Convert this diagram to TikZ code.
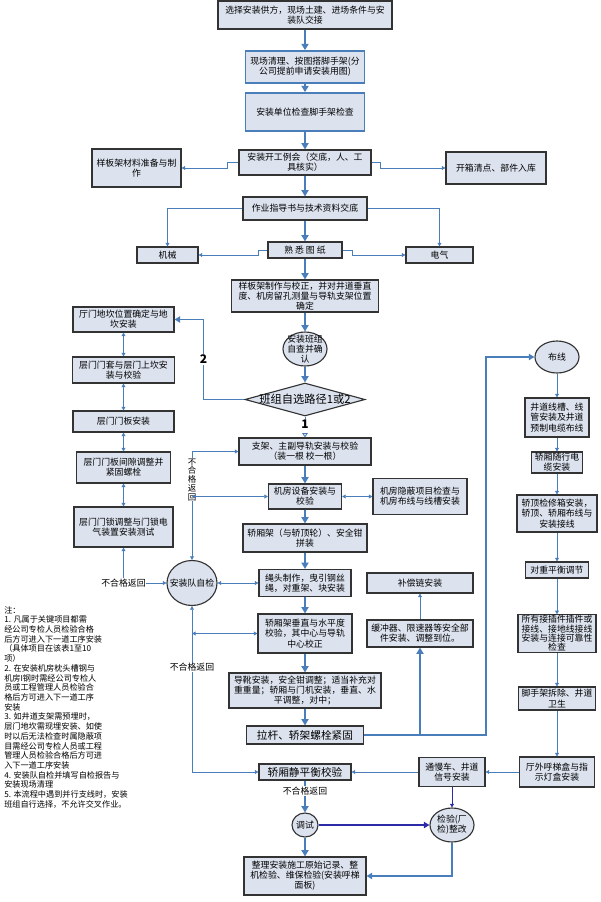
\documentclass[tikz,border=0pt]{standalone}
\usepackage{fontspec}
\setmainfont{Noto Sans CJK SC}
\usepackage{xcolor}
\usepackage{tikz}
\usetikzlibrary{shapes.geometric,arrows.meta,positioning}
\definecolor{flowblue}{HTML}{4A7EBB}
\definecolor{darkblue}{HTML}{2B2BA8}
\definecolor{boxfill}{HTML}{DCE3EF}
\newcommand{\boxfont}{\fontsize{6.3}{7.2}\selectfont}
\newcommand{\tightfont}{\fontsize{6.3}{6.6}\selectfont}
\newcommand{\bigboxfont}{\fontsize{7.6}{9}\selectfont}
\newcommand{\notefont}{\fontsize{5.8}{6.9}\selectfont}
\newcommand{\stackfont}{\fontsize{6}{6.2}\selectfont}
\newcommand{\pathnum}{\fontsize{8.5}{9}\selectfont\bfseries}

\begin{document}
\begin{tikzpicture}[x=0.025cm, y=-0.025cm,
    box/.style={rectangle, draw=black!80, fill=boxfill, line width=0.8pt, inner sep=0.5pt, align=center, font=\boxfont},
    bluebox/.style={box, draw=flowblue, line width=1.2pt},
    oval/.style={ellipse, draw=black!80, fill=boxfill, line width=0.8pt, inner sep=-2pt, align=center, font=\boxfont},
    sz/.style 2 args={minimum width=#1*0.025cm, minimum height=#2*0.025cm},
    mainarrow/.style={-{Triangle[length=4.5pt,width=5pt]}, line width=2pt, draw=flowblue},
    midarrow/.style={-{Triangle[length=4pt,width=4.5pt]}, line width=1.3pt, draw=flowblue},
    thinarrow/.style={-{Triangle[length=2.6pt,width=2.8pt]}, line width=0.6pt, draw=flowblue},
    twoway/.style={{Triangle[length=2.6pt,width=2.8pt]}-{Triangle[length=2.6pt,width=2.8pt]}, line width=0.6pt, draw=flowblue},
    tag/.style={fill=white, inner sep=0.5pt, font=\boxfont}
]
\useasboundingbox (0,0) rectangle (600,902);

% main column
\node[box, sz={174}{28}] (top) at (305,15) {选择安装供方，现场土建、进场条件与安\\装队交接};
\node[bluebox, sz={119}{32}] (clear) at (305,67) {现场清理、按图搭脚手架(分\\公司提前申请安装用图)};
\node[bluebox, sz={119}{38}] (check) at (305,112) {安装单位检查脚手架检查};
\node[box, sz={132}{25}] (meet) at (305,162.5) {安装开工例会（交底，人、工\\具核实）};
\node[box, sz={89}{38}] (tplmat) at (136.5,168) {样板架材料准备与制\\作};
\node[box, sz={100}{32}] (unpack) at (496,168) {开箱清点、部件入库};
\node[box, sz={124}{23}] (guide) at (305,208.5) {作业指导书与技术资料交底};
\node[box, sz={61}{16}] (mech) at (167.5,255) {机械};
\node[box, sz={74}{16}] (drawing) at (305,250) {熟 悉 图 纸};
\node[box, sz={67}{16}] (elec) at (439.5,255) {电气};
\node[box, sz={147}{32}] (tpl) at (305,296) {样板架制作与校正，并对井道垂直\\度、机房留孔测量与导轨支架位置\\确定};
\node[oval, sz={44}{34}] (selfchk) at (305,349) {安装班组\\自查并确\\认};
\node[diamond, draw=black!80, fill=boxfill, line width=0.8pt, aspect=3.6, inner xsep=-0.2cm, inner ysep=0pt,
      font=\fontsize{8}{9}\selectfont, sz={120}{33}] (route) at (305,399.5) {班组自选路径1或2};

% landing door branch
\node[box, sz={101}{25}] (sill) at (123.5,319.5) {厅门地坎位置确定与地\\坎安装};
\node[box, sz={102}{26}] (frame) at (123.5,370) {层门门套与层门上坎安\\装与校验};
\node[box, sz={101}{21}] (panel) at (123.5,421.5) {层门门板安装};
\node[box, sz={94}{31}] (gap) at (123.5,467.5) {层门门板间隙调整并\\紧固螺栓};
\node[box, sz={99}{40}] (lock) at (123.5,527) {层门门锁调整与门锁电\\气装置安装测试};

% car and machine branch
\node[box, sz={132}{27}] (rail) at (305,451.5) {支架、主副导轨安装与校验\\（装一根 校一根）};
\node[box, sz={73}{25}] (machine) at (305,496.5) {机房设备安装与\\校验};
\node[box, sz={94}{36}] (hidden) at (420,496.5) {机房隐蔽项目检查与\\机房布线与线槽安装};
\node[box, sz={124}{28}] (car) at (305,538) {轿厢架（与轿顶轮）、安全钳\\拼装};
\node[oval, sz={50}{45}, inner xsep=-4pt] (teamchk) at (192,583) {安装队自检};
\node[box, sz={92}{27}] (rope) at (305,583) {绳头制作，曳引钢丝\\绳，对重架、块安装};
\node[box, sz={94}{39}] (level) at (305,633.5) {轿厢架垂直与水平度\\校验，其中心与导轨\\中心校正};
\node[box, sz={152}{35}] (shoe) at (305,690.5) {导靴安装，安全钳调整；适当补充对\\重重量；轿厢与门机安装，垂直、水\\平调整，对中；};
\node[box, sz={117}{18}, font=\bigboxfont] (bolt) at (305,735) {拉杆、轿架螺栓紧固};
\node[box, sz={106}{20}] (chain) at (420,583) {补偿链安装};
\node[box, sz={106}{27}] (buffer) at (420,633.5) {缓冲器、限速器等安全部\\件安装、调整到位。};

% wiring branch
\node[oval, sz={44}{32}] (wiring) at (557,357) {布线};
\node[box, sz={64}{39}] (duct) at (557,417.5) {井道线槽、线\\管安装及井道\\预制电缆布线};
\node[box, sz={51}{21}] (trav) at (557,462.5) {轿厢随行电\\缆安装};
\node[box, sz={80}{37}] (topbox) at (557,513.5) {轿顶检修箱安装，\\轿顶、轿厢布线与\\安装接线};
\node[box, sz={63}{16}] (cwt) at (557,570) {对重平衡调节};
\node[box, sz={78}{37}, font=\tightfont] (conn) at (557,633.5) {所有接插件插件或\\接线、接地线接线\\安装与连接可靠性\\检查};
\node[box, sz={77}{23}] (scaf) at (557,698.5) {脚手架拆除、井道\\卫生};
\node[box, sz={75}{30}] (hall) at (557,772) {厅外呼梯盒与指\\示灯盒安装};

% final checks
\node[box, sz={66}{29}] (slow) at (452,772) {通慢车、井道\\信号安装};
\node[box, sz={92}{16}, font=\bigboxfont] (balance) at (305,772) {轿厢静平衡校验};
\node[oval, sz={26}{24}, inner sep=0pt] (debug) at (305,825) {调试};
\node[oval, sz={44}{34}] (insp) at (452,825) {检验(厂\\检)整改};
\node[box, sz={122}{38}] (final) at (305,876) {整理安装施工原始记录、整\\机检验、维保检验(安装呼梯\\面板)};

\node[anchor=north west, align=left, inner sep=0pt, font=\notefont] (notes) at (4,606) {注：\\1. 凡属于关键项目都需\\经公司专检人员检验合格\\后方可进入下一道工序安装\\（具体项目在该表1至10\\项）\\2. 在安装机房枕头槽钢与\\机房I钢时需经公司专检人\\员或工程管理人员检验合\\格后方可进入下一道工序\\安装\\3. 如井道支架需预埋时，\\层门地坎需现埋安装、如使\\时以后无法检查时属隐蔽项\\目需经公司专检人员或工程\\管理人员检验合格后方可进\\入下一道工序安装\\4. 安装队自检并填写自检报告与\\安装现场清理\\5. 本流程中遇到并行支线时，安装\\班组自行选择，不允许交叉作业。};

% connectors
\draw[mainarrow] (top) -- (clear);
\draw[mainarrow] (clear) -- (check);
\draw[mainarrow] (check) -- (meet);
\draw[mainarrow] (meet) -- (guide);
\draw[mainarrow] (guide) -- (drawing);
\draw[mainarrow] (drawing) -- (tpl);
\draw[mainarrow] (tpl) -- (selfchk);
\draw[mainarrow] (selfchk) -- (route);
\draw[thinarrow] (meet.west) -- ++(-11,0) |- (tplmat.east);
\draw[thinarrow] (meet.east) -- ++(9,0) |- (unpack.west);
\draw[thinarrow] (guide.west) -| (mech.north);
\draw[thinarrow] (guide.east) -| (elec.north);
\draw[thinarrow] (drawing.west) -- ++(-9,0) |- (mech.east);
\draw[thinarrow] (drawing.east) -- ++(10,0) |- (elec.west);

\draw[midarrow] (route.west) -- ++(-41,0) |- node[pos=0.25, tag, font=\pathnum] {2} (sill.east);
\draw[thinarrow, dashed, -{Triangle[open,length=3pt,width=4pt]}] (route) -- node[pos=0.35, tag, font=\pathnum] {1} (rail);
\draw[twoway] (sill) -- (frame);
\draw[twoway] (frame) -- (panel);
\draw[twoway] (panel) -- (gap);
\draw[twoway] (gap) -- (lock);
\draw[twoway] (lock.south) |- node[pos=0.5, tag] {不合格返回} (teamchk.west);

\draw[mainarrow] (rail) -- (machine);
\draw[mainarrow] (machine) -- (car);
\draw[mainarrow] (car) -- (rope);
\draw[mainarrow] (rope) -- (level);
\draw[mainarrow] (level) -- (shoe);
\draw[mainarrow] (shoe) -- (bolt);
\draw[twoway] (rail.west) -| node[pos=0.63, tag, align=center, font=\stackfont] {不\\合\\格\\返\\回} (teamchk.north);
\draw[twoway] (teamchk.north |- machine.west) -- (machine.west);
\draw[twoway] (machine) -- (hidden);
\draw[twoway] (teamchk.east) -- (rope.west);
\draw[twoway] (teamchk.south) |- node[pos=0.185, tag] {不合格返回} (balance.west);
\draw[twoway] (teamchk.south |- level.west) -- (level.west);

\draw[mainarrow] (bolt.east) -| (buffer.south);
\draw[thinarrow] (buffer) -- (chain);
\draw[midarrow] (bolt.east) -- ++(122,0) |- (wiring.west);
\draw[thinarrow] (wiring) -- (duct);
\draw[thinarrow] (duct) -- (trav);
\draw[thinarrow] (trav) -- (topbox);
\draw[thinarrow] (topbox) -- (cwt);
\draw[thinarrow] (cwt) -- (conn);
\draw[thinarrow] (conn) -- (scaf);
\draw[thinarrow] (scaf) -- (hall);
\draw[thinarrow] (hall) -- (slow);
\draw[thinarrow] (slow) -- (balance);
\draw[thinarrow, draw=darkblue] (slow) -- (insp);

\draw[mainarrow] (balance) -- node[pos=0.32, tag] {不合格返回} (debug);
\draw[midarrow, draw=darkblue] (debug) -- (insp);
\draw[mainarrow] (debug) -- (final);
\draw[midarrow] (insp.south) |- (final.east);
\end{tikzpicture}
\end{document}
